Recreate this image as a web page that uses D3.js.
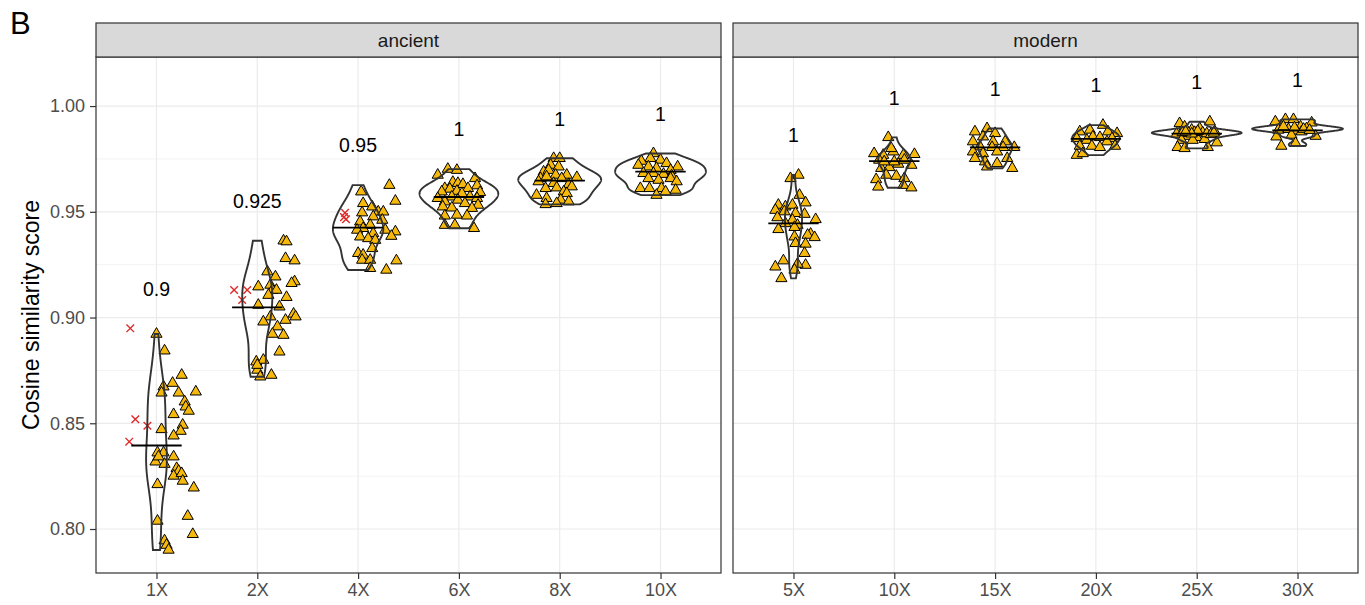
<!DOCTYPE html>
<html>
<head>
<meta charset="utf-8">
<script src="https://cdn.jsdelivr.net/npm/d3@7"></script>
<style>
body{margin:0;background:#fff}
text{font-family:"Liberation Sans",Arial,Helvetica,sans-serif}
</style>
</head>
<body>
<script>
// chart values
let panelNames = ["ancient", "modern"]
let ancientCats = ["1X", "2X", "4X", "6X", "8X", "10X"]
let modernCats = ["5X", "10X", "15X", "20X", "25X", "30X"]
let yTicks = [0.80, 0.85, 0.90, 0.95, 1.00]
let yMinor = [0.825, 0.875, 0.925, 0.975]
let yDomain = [0.7792, 1.0232]

let ancientLabels = ["0.9", "0.925", "0.95", "1", "1", "1"]
let modernLabels = ["1", "1", "1", "1", "1", "1"]
let ancientMedians = [0.8395, 0.9048, 0.9425, 0.9570, 0.9647, 0.9690]
let modernMedians = [0.9445, 0.9740, 0.9805, 0.9845, 0.9870, 0.9885]

// [score, jitter in category units]
let anc1X = [[0.8922,0.00],[0.8843,0.08],[0.8728,0.25],[0.8690,0.16],[0.8673,0.07],[0.8644,0.05],[0.8644,0.22],[0.8649,0.39],
  [0.8602,0.28],[0.8578,0.29],[0.8558,0.32],[0.8542,0.17],[0.8492,0.26],[0.8471,0.05],[0.8463,0.24],[0.8441,0.17],
  [0.8361,0.01],[0.8361,0.07],[0.8318,-0.01],[0.8342,0.17],[0.8307,0.08],[0.8287,0.20],[0.8274,0.22],[0.8251,0.17],
  [0.8263,0.25],[0.8227,0.26],[0.8211,0.01],[0.8195,0.37],[0.8038,0.01],[0.8061,0.31],[0.7975,0.36],[0.7945,0.08],
  [0.7924,0.10],[0.7901,0.12],[0.8342,0.02]]
let anc2X = [[0.9363,0.26],[0.9359,0.29],[0.9280,0.28],[0.9269,0.37],[0.9217,0.10],[0.9193,0.18],[0.9170,0.37],[0.9162,0.34],
  [0.9146,0.01],[0.9154,0.13],[0.9130,0.15],[0.9130,0.19],[0.9106,0.11],[0.9096,0.29],[0.9059,0.01],[0.9051,0.22],
  [0.9004,0.13],[0.8980,0.06],[0.8988,0.28],[0.9017,0.36],[0.9004,0.38],[0.8957,0.20],[0.8922,0.15],[0.8917,0.26],
  [0.8838,0.22],[0.8791,-0.01],[0.8799,0.06],[0.8752,0.00],[0.8728,0.14],[0.8720,0.03],[0.8775,0.00]]
let anc4X = [[0.9595,0.03],[0.9626,0.31],[0.9551,0.37],[0.9540,0.05],[0.9524,0.14],[0.9500,0.20],[0.9500,0.25],[0.9496,0.04],
  [0.9477,0.15],[0.9461,0.24],[0.9453,0.02],[0.9437,0.12],[0.9422,0.05],[0.9414,0.27],[0.9406,0.37],[0.9414,-0.01],
  [0.9398,0.15],[0.9385,0.33],[0.9382,0.02],[0.9374,0.10],[0.9366,0.17],[0.9327,0.14],[0.9304,0.00],[0.9296,0.05],
  [0.9272,0.04],[0.9272,0.12],[0.9269,0.38],[0.9233,0.12],[0.9225,0.28]]
let anc6X = [[0.9702,-0.11],[0.9697,-0.02],[0.9674,-0.21],[0.9658,0.16],[0.9640,-0.06],[0.9635,-0.01],[0.9630,0.04],[0.9624,0.18],
  [0.9611,-0.14],[0.9608,-0.09],[0.9611,0.09],[0.9595,-0.17],[0.9598,-0.02],[0.9592,0.21],[0.9587,0.03],[0.9571,-0.07],
  [0.9571,0.11],[0.9564,0.18],[0.9564,-0.21],[0.9556,-0.01],[0.9548,-0.14],[0.9540,0.06],[0.9532,0.19],[0.9524,-0.16],
  [0.9519,-0.07],[0.9517,0.13],[0.9481,-0.14],[0.9485,-0.02],[0.9481,0.08],[0.9437,-0.14],[0.9437,-0.04],[0.9422,0.15]]
let anc8X = [[0.9753,-0.06],[0.9753,0.00],[0.9721,-0.09],[0.9713,-0.01],[0.9689,-0.16],[0.9697,-0.11],[0.9674,-0.04],[0.9674,0.07],
  [0.9658,-0.19],[0.9666,-0.13],[0.9658,0.02],[0.9663,0.17],[0.9635,-0.06],[0.9630,0.09],[0.9643,-0.21],[0.9611,-0.14],
  [0.9614,-0.03],[0.9619,0.12],[0.9595,0.04],[0.9579,-0.23],[0.9587,0.07],[0.9564,-0.13],[0.9556,0.01],[0.9548,0.09],
  [0.9535,-0.14],[0.9540,-0.03]]
let anc10X = [[0.9776,-0.07],[0.9753,-0.10],[0.9745,0.00],[0.9740,-0.19],[0.9729,0.06],[0.9713,0.17],[0.9721,-0.22],[0.9713,-0.12],
  [0.9706,-0.04],[0.9697,0.10],[0.9682,-0.17],[0.9682,-0.07],[0.9678,0.03],[0.9671,0.11],[0.9658,-0.12],[0.9650,-0.02],
  [0.9658,0.10],[0.9643,0.16],[0.9611,-0.20],[0.9611,-0.11],[0.9611,0.01],[0.9603,0.15],[0.9579,-0.04],[0.9595,0.05]]

let mod5X = [[0.9658,-0.03],[0.9674,0.05],[0.9579,0.06],[0.9532,-0.15],[0.9543,0.12],[0.9524,-0.08],[0.9532,-0.01],[0.9508,-0.18],
  [0.9501,-0.09],[0.9493,0.02],[0.9489,0.11],[0.9473,-0.16],[0.9461,-0.01],[0.9464,0.22],[0.9445,-0.08],[0.9437,0.04],
  [0.9417,-0.15],[0.9427,0.01],[0.9395,0.17],[0.9390,0.14],[0.9379,0.21],[0.9382,0.01],[0.9348,0.12],[0.9351,0.02],
  [0.9304,0.11],[0.9269,-0.10],[0.9240,-0.18],[0.9248,0.12],[0.9253,0.04],[0.9225,0.01],[0.9185,-0.12]]
let mod10X = [[0.9852,-0.06],[0.9776,-0.20],[0.9768,-0.11],[0.9784,-0.01],[0.9768,0.09],[0.9772,0.20],[0.9745,-0.15],[0.9726,0.04],
  [0.9721,0.17],[0.9706,-0.13],[0.9710,-0.05],[0.9674,-0.08],[0.9669,0.02],[0.9658,0.10],[0.9653,-0.18],[0.9618,-0.16],
  [0.9626,0.09],[0.9614,0.17],[0.9737,0.00],[0.9745,0.10],[0.9737,-0.10],[0.9800,-0.03]]
let mod15X = [[0.9879,-0.20],[0.9894,-0.08],[0.9855,-0.12],[0.9871,0.00],[0.9832,-0.22],[0.9832,-0.02],[0.9832,0.10],[0.9808,-0.15],
  [0.9805,-0.03],[0.9805,0.08],[0.9805,0.19],[0.9784,-0.22],[0.9776,-0.12],[0.9784,0.02],[0.9753,0.12],[0.9753,-0.20],
  [0.9737,-0.10],[0.9706,0.17],[0.9713,-0.08],[0.9729,0.02]]
let mod20X = [[0.9910,0.07],[0.9879,-0.16],[0.9887,-0.06],[0.9879,0.12],[0.9871,0.21],[0.9847,-0.19],[0.9855,-0.03],[0.9852,0.04],
  [0.9847,0.16],[0.9839,-0.09],[0.9832,0.11],[0.9811,-0.16],[0.9811,-0.04],[0.9811,0.19],[0.9768,-0.19],[0.9776,-0.13],
  [0.9805,0.04]]
let mod25X = [[0.9918,-0.17],[0.9926,0.13],[0.9902,-0.12],[0.9894,0.03],[0.9887,-0.05],[0.9879,0.18],[0.9868,-0.20],[0.9874,0.06],
  [0.9858,-0.10],[0.9852,0.00],[0.9839,-0.15],[0.9839,-0.04],[0.9827,0.20],[0.9805,-0.19],[0.9800,-0.12],[0.9805,0.11],
  [0.9843,0.08],[0.9872,-0.08],[0.9870,0.10],[0.9876,-0.02],[0.9866,0.14],[0.9875,-0.14],[0.9881,0.01],
  [0.9869,-0.05],[0.9873,0.17],[0.9878,-0.11]]
let mod30X = [[0.9926,-0.22],[0.9937,-0.12],[0.9937,-0.04],[0.9921,0.14],[0.9902,-0.16],[0.9902,0.03],[0.9894,0.09],[0.9887,-0.19],
  [0.9890,-0.09],[0.9883,-0.01],[0.9858,0.18],[0.9863,-0.06],[0.9811,-0.16],[0.9824,-0.02],[0.9879,0.04],[0.9855,-0.21],
  [0.9898,-0.03],[0.9891,0.06],[0.9886,0.12],[0.9903,-0.14]]

// red crosses (left of the groups)
let anc1XFail = [[0.8949,-0.26],[0.8519,-0.21],[0.8488,-0.09],[0.8413,-0.27]]
let anc2XFail = [[0.9130,-0.23],[0.9130,-0.10],[0.9083,-0.15]]
let anc4XFail = [[0.9495,-0.13],[0.9475,-0.14],[0.9465,-0.12]]

let ancientPts = [anc1X, anc2X, anc4X, anc6X, anc8X, anc10X]
let ancientFail = [anc1XFail, anc2XFail, anc4XFail, [], [], []]
let modernPts = [mod5X, mod10X, mod15X, mod20X, mod25X, mod30X]
let modernFail = [[], [], [], [], [], []]

let w = 1365
let h = 605
let plotTop = 57
let plotBottom = 573
let stripTop = 23
let panelX = [[96, 721], [733, 1358]]

let fillTri = "#F5B80C"
let red = "#DC2A2A"
let dark = "#333333"

let svg = d3.select("body").append("svg")
  .attr("width", w)
  .attr("height", h)

let y = d3.scaleLinear().domain(yDomain).range([plotBottom, plotTop])

let kde = (vals, grid)=>{
  let s = vals.slice().sort(d3.ascending)
  let n = s.length
  let sd = d3.deviation(s)
  let iqr = d3.quantile(s, 0.75) - d3.quantile(s, 0.25)
  let lo = Math.min(sd, iqr / 1.34)
  if(!lo) lo = sd
  let bw = 0.9 * lo * Math.pow(n, -0.2)
  return grid.map(g=>{
    let sum = 0
    s.forEach(v=>{
      let z = (g - v) / bw
      sum += Math.exp(-0.5 * z * z)
    })
    return {y: g, d: sum / (n * bw * Math.sqrt(2 * Math.PI))}
  })
}

let panels = [
  {name: panelNames[0], cats: ancientCats, pts: ancientPts, fail: ancientFail, med: ancientMedians, lab: ancientLabels},
  {name: panelNames[1], cats: modernCats, pts: modernPts, fail: modernFail, med: modernMedians, lab: modernLabels}
]

panels.forEach((p, pi)=>{
  let [x0, x1] = panelX[pi]
  let x = d3.scalePoint().domain(p.cats).range([x0, x1]).padding(0.6)
  let step = x.step()
  let g = svg.append("g")

  // grid
  g.selectAll(".minor").data(yMinor).enter().append("line")
    .attr("x1", x0).attr("x2", x1)
    .attr("y1", d=>y(d)).attr("y2", d=>y(d))
    .attr("stroke", "#EBEBEB").attr("stroke-width", 0.6)
  g.selectAll(".major").data(yTicks).enter().append("line")
    .attr("x1", x0).attr("x2", x1)
    .attr("y1", d=>y(d)).attr("y2", d=>y(d))
    .attr("stroke", "#EBEBEB").attr("stroke-width", 1.2)
  g.selectAll(".vmajor").data(p.cats).enter().append("line")
    .attr("x1", d=>x(d)).attr("x2", d=>x(d))
    .attr("y1", plotTop).attr("y2", plotBottom)
    .attr("stroke", "#EBEBEB").attr("stroke-width", 1.2)

  // violins, scaled by the largest density in the panel
  let dens = p.pts.map(pts=>{
    let vals = pts.map(d=>d[0])
    let mn = d3.min(vals), mx = d3.max(vals)
    let grid = d3.range(0, 256).map(i=>mn + (mx - mn) * i / 255)
    return kde(vals, grid)
  })
  let maxD = d3.max(dens, d=>d3.max(d, e=>e.d))
  let half = 0.45 * step

  // points
  p.pts.forEach((pts, i)=>{
    let cx = x(p.cats[i])
    g.selectAll(null).data(pts).enter().append("path")
      .attr("d", d3.symbol().type(d3.symbolTriangle).size(54))
      .attr("transform", d=>"translate(" + (cx + d[1] * step) + "," + y(d[0]) + ")")
      .attr("fill", fillTri)
      .attr("stroke", "black")
      .attr("stroke-width", 1)
    g.selectAll(null).data(p.fail[i]).enter().append("path")
      .attr("d", "M-3.8,-3.8L3.8,3.8M-3.8,3.8L3.8,-3.8")
      .attr("transform", d=>"translate(" + (cx + d[1] * step) + "," + y(d[0]) + ")")
      .attr("stroke", red)
      .attr("stroke-width", 1.4)
      .attr("fill", "none")
  })

  dens.forEach((d, i)=>{
    let cx = x(p.cats[i])
    let area = d3.area()
      .x0(e=>cx - e.d / maxD * half)
      .x1(e=>cx + e.d / maxD * half)
      .y(e=>y(e.y))
    g.append("path")
      .attr("d", area(d))
      .attr("fill", "none")
      .attr("stroke", dark)
      .attr("stroke-width", 1.9)
  })

  // median bars
  g.selectAll(null).data(p.med).enter().append("line")
    .attr("x1", (d, i)=>x(p.cats[i]) - 0.25 * step)
    .attr("x2", (d, i)=>x(p.cats[i]) + 0.25 * step)
    .attr("y1", d=>y(d)).attr("y2", d=>y(d))
    .attr("stroke", "black").attr("stroke-width", 1.8)

  // labels above groups
  g.selectAll(null).data(p.lab).enter().append("text")
    .attr("x", (d, i)=>x(p.cats[i]))
    .attr("y", (d, i)=>{
      let all = p.pts[i].concat(p.fail[i]).map(e=>e[0])
      return y(d3.max(all) + 0.0188)
    })
    .attr("text-anchor", "middle")
    .attr("dominant-baseline", "central")
    .attr("font-size", 19.5)
    .attr("fill", "black")
    .text(d=>d)

  // border + strip
  g.append("rect")
    .attr("x", x0).attr("y", plotTop).attr("width", x1 - x0).attr("height", plotBottom - plotTop)
    .attr("fill", "none").attr("stroke", dark).attr("stroke-width", 1.2)
  g.append("rect")
    .attr("x", x0).attr("y", stripTop).attr("width", x1 - x0).attr("height", plotTop - stripTop)
    .attr("fill", "#D9D9D9").attr("stroke", dark).attr("stroke-width", 1.2)
  g.append("text")
    .attr("x", (x0 + x1) / 2).attr("y", (stripTop + plotTop) / 2)
    .attr("text-anchor", "middle").attr("dominant-baseline", "central")
    .attr("font-size", 19).attr("fill", "#1A1A1A")
    .text(p.name)

  // x axis
  let xAxis = g.append("g").attr("transform", "translate(0," + plotBottom + ")")
    .call(d3.axisBottom(x).tickSize(6).tickPadding(4))
  xAxis.select(".domain").remove()
  xAxis.selectAll("line").attr("stroke", dark).attr("stroke-width", 1.2)
  xAxis.selectAll("text").attr("font-size", 18).attr("fill", "#4D4D4D")
    .attr("font-family", "Liberation Sans, Arial, sans-serif")

  if(pi === 0){
    let yAxis = g.append("g").attr("transform", "translate(" + x0 + ",0)")
      .call(d3.axisLeft(y).tickValues(yTicks).tickFormat(d3.format(".2f")).tickSize(6).tickPadding(5))
    yAxis.select(".domain").remove()
    yAxis.selectAll("line").attr("stroke", dark).attr("stroke-width", 1.2)
    yAxis.selectAll("text").attr("font-size", 18).attr("fill", "#4D4D4D")
      .attr("font-family", "Liberation Sans, Arial, sans-serif")
  }
})

svg.append("text")
  .attr("transform", "translate(39," + (plotTop + plotBottom) / 2 + ") rotate(-90)")
  .attr("text-anchor", "middle")
  .attr("font-size", 23)
  .attr("fill", "black")
  .text("Cosine similarity score")

svg.append("text")
  .attr("x", 10).attr("y", 34)
  .attr("font-size", 31)
  .attr("fill", "black")
  .text("B")
</script>
</body>
</html>
